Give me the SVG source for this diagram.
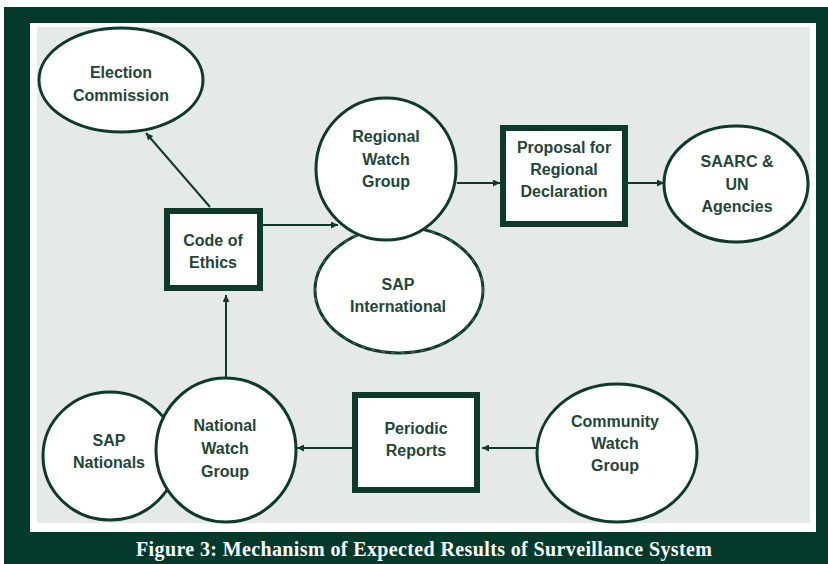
<svg xmlns="http://www.w3.org/2000/svg" width="828" height="564" viewBox="0 0 828 564">
<defs>
<style>
.n{fill:#ffffff;stroke:#0e3a2b;stroke-width:3}
.b{fill:#ffffff;stroke:#0e3a2b;stroke-width:6}
.t{font-family:"Liberation Sans",Arial,sans-serif;font-weight:bold;font-size:16px;fill:#1f4737;text-anchor:middle}
.c{fill:none;stroke:#0e3a2b;stroke-width:2}
</style>
<marker id="ah" viewBox="0 0 10 10" refX="10" refY="5" markerWidth="9" markerHeight="7" markerUnits="userSpaceOnUse" orient="auto">
<path d="M0,0 L10,5 L0,10 z" fill="#0e3a2b"/>
</marker>
</defs>
<rect x="0" y="0" width="828" height="564" fill="#ffffff"/>
<rect x="4" y="7" width="824" height="557" fill="#033a2b"/>
<rect x="30" y="23" width="786" height="509" fill="#ffffff"/>
<rect x="37" y="27" width="773" height="496" fill="#e5eae8"/>

<g id="connectors">
<line class="c" x1="210" y1="207" x2="146" y2="133" stroke-width="1.3" marker-end="url(#ah)"/>
<line class="c" x1="226" y1="378" x2="226" y2="295" marker-end="url(#ah)"/>
<line class="c" x1="263" y1="225" x2="338" y2="225" marker-end="url(#ah)"/>
<line class="c" x1="457" y1="183" x2="500" y2="183" marker-end="url(#ah)"/>
<line class="c" x1="628" y1="183" x2="664" y2="183" marker-end="url(#ah)"/>
<line class="c" x1="352" y1="448" x2="297" y2="448" marker-end="url(#ah)"/>
<line class="c" x1="537" y1="448" x2="482" y2="448" marker-end="url(#ah)"/>
</g>

<g id="election-commission">
<ellipse class="n" cx="121" cy="80" rx="82" ry="52"/>
<text class="t" x="121" y="78">Election</text>
<text class="t" x="121" y="101">Commission</text>
</g>

<g id="code-of-ethics">
<rect class="b" x="167" y="211" width="93" height="77"/>
<text class="t" x="213" y="246">Code of</text>
<text class="t" x="213" y="268">Ethics</text>
</g>

<g id="sap-international">
<ellipse class="n" cx="399" cy="290" rx="84" ry="63" stroke-width="5"/>
<ellipse cx="399" cy="290" rx="84" ry="63" fill="none" stroke="#6d8a7e" stroke-width="0.8" stroke-dasharray="4 6"/>
<text class="t" x="398" y="290">SAP</text>
<text class="t" x="398" y="312">International</text>
</g>

<g id="regional-watch-group">
<ellipse class="n" cx="386" cy="169" rx="70" ry="71"/>
<text class="t" x="386" y="142">Regional</text>
<text class="t" x="386" y="165">Watch</text>
<text class="t" x="386" y="187">Group</text>
</g>

<g id="proposal">
<rect class="b" x="503" y="128" width="122" height="96"/>
<text class="t" x="564" y="153">Proposal for</text>
<text class="t" x="564" y="175">Regional</text>
<text class="t" x="564" y="197">Declaration</text>
</g>

<g id="saarc-un">
<ellipse class="n" cx="736" cy="184" rx="72" ry="58"/>
<text class="t" x="737" y="167">SAARC &amp;</text>
<text class="t" x="737" y="190">UN</text>
<text class="t" x="737" y="212">Agencies</text>
</g>

<g id="sap-nationals">
<ellipse class="n" cx="110" cy="456" rx="67" ry="64"/>
<text class="t" x="109" y="446">SAP</text>
<text class="t" x="109" y="468">Nationals</text>
</g>

<g id="national-watch-group">
<ellipse class="n" cx="226" cy="450" rx="70" ry="72"/>
<text class="t" x="225" y="431">National</text>
<text class="t" x="225" y="454">Watch</text>
<text class="t" x="225" y="477">Group</text>
</g>

<g id="periodic-reports">
<rect class="b" x="355" y="395" width="122" height="95"/>
<text class="t" x="416" y="434">Periodic</text>
<text class="t" x="416" y="456">Reports</text>
</g>

<g id="community-watch-group">
<ellipse class="n" cx="617" cy="453" rx="80" ry="69"/>
<text class="t" x="615" y="427">Community</text>
<text class="t" x="615" y="449">Watch</text>
<text class="t" x="615" y="471">Group</text>
</g>

<text x="424" y="556" font-family="'Liberation Serif','Times New Roman',serif" font-weight="bold" font-size="20" fill="#ffffff" text-anchor="middle" textLength="576" lengthAdjust="spacing">Figure 3: Mechanism of Expected Results of Surveillance System</text>
</svg>
